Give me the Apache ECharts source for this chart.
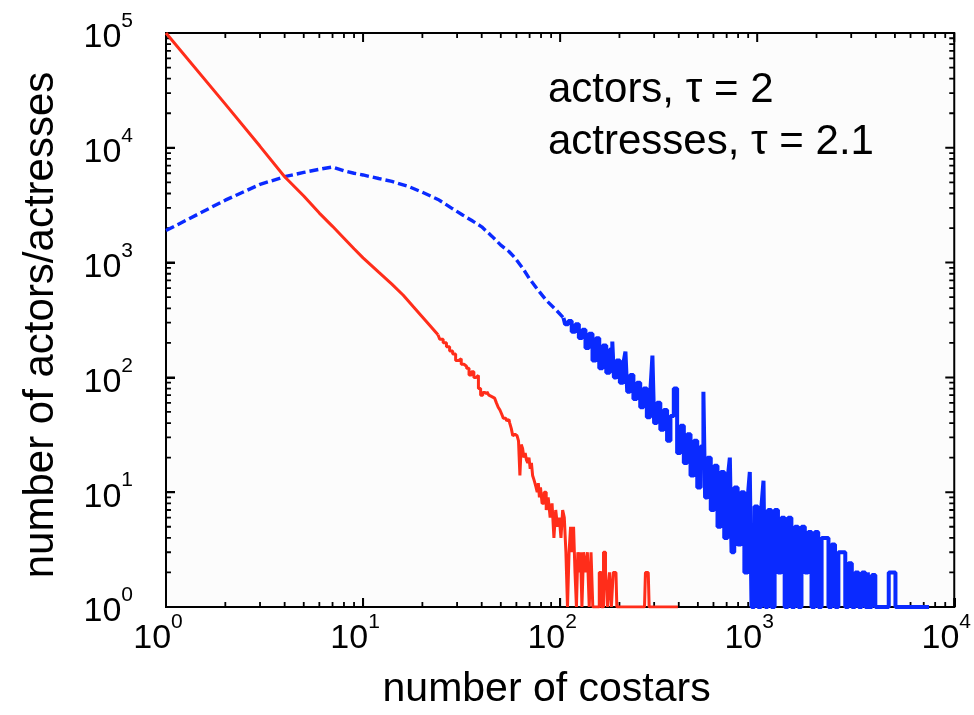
<!DOCTYPE html>
<html><head><meta charset="utf-8">
<script src="https://cdn.jsdelivr.net/npm/echarts@6/dist/echarts.min.js"></script>
<style>html,body{margin:0;padding:0;background:#fff}#c{width:974px;height:715px}</style>
</head><body><div id="c"></div>
<script>
// ---- data ----
// red curve, smooth part (x = number of costars, y = count)
const redSmoothX = [1, 2, 3, 4, 5, 6, 7, 8, 9, 10, 12, 14, 16, 18, 20, 22, 24];
const redSmoothY = [100000, 24000, 10300, 5600, 3800, 2700, 2070, 1630, 1320, 1100, 826, 650, 520, 412, 336, 279, 235];
// red curve, noisy tail
const redNoisyX = [24,25,26,27,28,29,30,31,32,33,34,35,36,37,38,39,40,41,42,43,44,45,46,47,48,49,50,51,52,53,54,55,56,57,58,59,60,61,62,63,64,65,66,67,68,69,70,71,72,73,74,75,76,77,78,79,80,
  82,84,86,88,90,92,94,96,98,100,102,104,106,108,110,112,114,116,118,120,122,124,126,128,130,
  133,136,139,142,145,148,152,156,160,164,168,172,176,180,184,188,192,196,230,268,274,280,286,396];
const redNoisyY = [235,215,200,185,170,160,140,145,130,125,120,105,112,100,104,80,70,74,72,75,70,68,66,66,60,55,52,48,44,44,42,43,40,36,31,32,31,31,28,14,26,24,20,22,19,18,20,16,18,14,13,12,11,10,12,9,11,
  8,10,7,9,6,8,4,7,5,6,4,7,6,3,1,3,5,3,5,2,1,3,2,3,1,
  3,2,3,1,3,1,1,1,2,1,3,2,1,2,1,2,2,1,1,1,2,2,1,1];
// blue curve, smooth (dashed) part
const blueSmoothX = [1, 2, 3, 4, 5, 6, 7, 8, 9, 10, 12, 14, 17, 20, 24, 28, 32, 36, 40, 45, 50, 55, 59, 65, 70, 77, 85, 95, 104];
const blueSmoothY = [1900, 3500, 4800, 5600, 6100, 6500, 6800, 6300, 6000, 5800, 5400, 5100, 4600, 4100, 3550, 3000, 2600, 2300, 2050, 1700, 1420, 1250, 1100, 880, 720, 580, 470, 390, 330];
// blue curve, noisy tail
const blueNoisyX = [104,108,112,117,122,127,132,137,143,149,155,161,168,175,182,186,189,197,205,213,216,222,231,240,250,260,270,281,292,296,304,316,329,342,356,370,385,400,416,433,450,468,487,506,527,540,548,570,593,617,641,667,694,721,732,750,780,812,844,878,913,922,950,988,1027,1068,1085,1111,1156,1202,1250,1300,1352,1406,1462,1521,1582,1645,1711,1779,1850,1924,2001,2081,2165,2260,2341,2435,2532,2634,2750,2849,2962,3081,3204,3332,3466,3604,3680,3749,3899,4055,4217,4385,4561,4743,4933,5130,7450];
const blueNoisyY = [330,290,310,250,290,220,260,180,240,140,219,120,190,110,175,205,100,140,90,130,168,75,105,65,90,55,80,45,72,155,40,60,35,52,28,46,80,22,38,18,32,14,28,11,25,75,9,20,7,17,5,15,4,13,20,3,11,3.5,10,2,9,15,1,7.5,1,7,12.6,1,7,1,7,2,6,1,6,1,5,1,5,2,4.5,1,4.5,1,4,4,1,3.5,1,3,3,1,2.4,1,2,1,2,1,2,1,1.9,1,1,1,1,2,2,1,1];
// axis ticks
const xMajorTicks = [1, 10, 100, 1000, 10000];
const yMajorTicks = [1, 10, 100, 1000, 10000, 100000];
const minorMultipliers = [2, 3, 4, 5, 6, 7, 8, 9];
const annotationLines = ['actors, \u03c4 = 2', 'actresses, \u03c4 = 2.1'];
const xTitle = 'number of costars';
const yTitle = 'number of actors/actresses';

// ---- build ----
const FONT = '"Liberation Sans", Arial, Helvetica, sans-serif';
const RED = '#ff2d1a', BLUE = '#0a2aff';
function pairs(xs, ys) { return xs.map((x, i) => [x, ys[i]]); }
function minorValues(decades) {
  const out = [];
  decades.slice(0, -1).forEach(d => minorMultipliers.forEach(m => out.push(m * d)));
  return out;
}
const xMinor = minorValues(xMajorTicks);
const yMinor = minorValues(yMajorTicks);
const xMin = xMajorTicks[0], xMax = xMajorTicks[xMajorTicks.length - 1];
const yMin = yMajorTicks[0], yMax = yMajorTicks[yMajorTicks.length - 1];

// plot geometry (pixels) used to express fixed tick lengths as log factors
const GRID = { left: 166, top: 33, width: 792, height: 577 };
const xDecadePx = GRID.width / Math.log10(xMax / xMin);
const yDecadePx = GRID.height / Math.log10(yMax / yMin);
function xf(len) { return Math.pow(10, len / xDecadePx); }
function yf(len) { return Math.pow(10, len / yDecadePx); }
function tickSegments(kind, vals, len) {
  const out = [];
  vals.forEach(v => {
    if (kind === 'x') {
      out.push([v, yMin], [v, yMin * yf(len)], null, [v, yMax], [v, yMax / yf(len)], null);
    } else {
      out.push([xMin, v], [xMin * xf(len), v], null, [xMax, v], [xMax / xf(len), v], null);
    }
  });
  return out;
}
function tickSeries(data, w) {
  return { type: 'line', data: data, showSymbol: false, lineStyle: { color: '#000', width: w } };
}

function decadeLabel(v) {
  const e = Math.round(Math.log10(v));
  return '{b|10}{s|' + e + '}';
}
const rich = {
  b: { fontSize: 34, fontFamily: FONT, color: '#000', lineHeight: 44, verticalAlign: 'bottom' },
  s: { fontSize: 21, fontFamily: FONT, color: '#000', lineHeight: 21, verticalAlign: 'top' }
};

const chart = echarts.init(document.getElementById('c'), null, { renderer: 'canvas' });
const option = {
  animation: false,
  grid: { left: GRID.left, top: GRID.top, width: GRID.width, height: GRID.height, show: true, backgroundColor: '#fcfcfc', borderColor: '#000', borderWidth: 2 },
  xAxis: { type: 'log', min: xMin, max: xMax,
      axisLine: { show: true, lineStyle: { color: '#000', width: 2 } },
      axisTick: { show: true, inside: true, length: 9, lineStyle: { color: '#000', width: 2 } },
      splitLine: { show: false },
      axisLabel: { margin: 5, formatter: decadeLabel, rich: rich, padding: [0, 16, 0, 0] },
      name: xTitle, nameLocation: 'middle', nameGap: 62,
      nameTextStyle: { fontSize: 41, fontFamily: FONT, color: '#000', padding: [0, 27, 0, 0] } },
  yAxis: { type: 'log', min: yMin, max: yMax,
      axisLine: { show: true, lineStyle: { color: '#000', width: 2 } },
      axisTick: { show: true, inside: true, length: 9, lineStyle: { color: '#000', width: 2 } },
      splitLine: { show: false },
      axisLabel: { margin: 33, formatter: decadeLabel, rich: rich },
      name: yTitle, nameLocation: 'middle', nameRotate: 90, nameGap: 104,
      nameTextStyle: { fontSize: 42, fontFamily: FONT, color: '#000', padding: [0, 10, 0, 0] } },
  series: [
    tickSeries(tickSegments('x', xMajorTicks, 9), 2),
    tickSeries(tickSegments('x', xMinor, 5), 1.8),
    tickSeries(tickSegments('y', yMajorTicks, 9), 2),
    tickSeries(tickSegments('y', yMinor, 5), 1.8),
    { type: 'line', data: pairs(blueSmoothX, blueSmoothY), showSymbol: false,
      lineStyle: { color: BLUE, width: 3.4, type: [9, 4] } },
    { type: 'line', step: 'middle', data: pairs(blueNoisyX, blueNoisyY), showSymbol: false,
      lineStyle: { color: BLUE, width: 4 } },
    { type: 'line', data: pairs(redSmoothX, redSmoothY), showSymbol: false,
      lineStyle: { color: RED, width: 3 } },
    { type: 'line', step: 'middle', data: pairs(redNoisyX, redNoisyY), showSymbol: false,
      lineStyle: { color: RED, width: 3 } }
  ],
  graphic: [
    { type: 'text', left: 548, top: 64,
      style: { text: annotationLines.join('\n'), font: '42px ' + FONT, fill: '#000', lineHeight: 52 } }
  ]
};
chart.setOption(option);
</script>
</body></html>
